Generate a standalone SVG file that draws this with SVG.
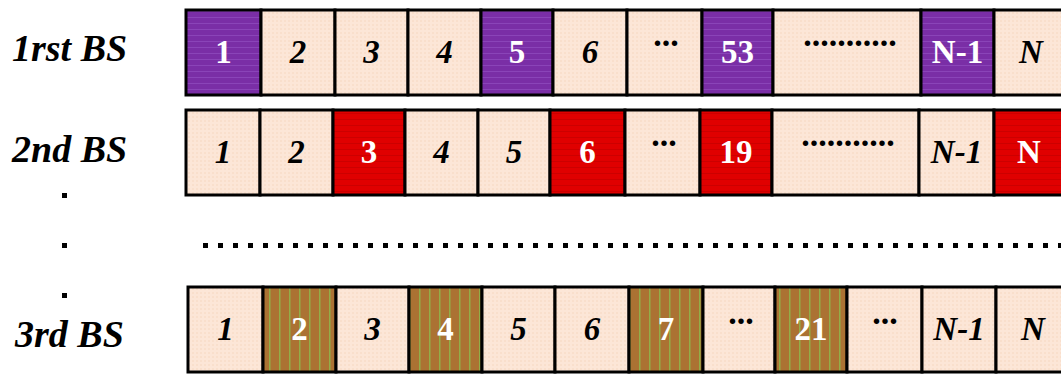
<svg xmlns="http://www.w3.org/2000/svg" width="1061" height="374" viewBox="0 0 1061 374">
<defs>
<pattern id="pPeach" width="4" height="4" patternUnits="userSpaceOnUse"><rect width="4" height="4" fill="#fce6d7"/><rect width="2" height="2" fill="#f9dfcc"/></pattern>
<pattern id="pPurple" width="6" height="6" patternUnits="userSpaceOnUse"><rect width="6" height="6" fill="#7a2ea6"/><rect y="5" width="6" height="1" fill="#8a44b8"/></pattern>
<pattern id="pRed" width="6" height="6" patternUnits="userSpaceOnUse"><rect width="6" height="6" fill="#e00000"/><rect y="5" width="6" height="1" fill="#cc0000"/></pattern>
<pattern id="pOlive" width="10" height="10" patternUnits="userSpaceOnUse" x="265"><rect width="10" height="10" fill="#ab7233"/><rect x="4" width="1.5" height="10" fill="#92ad48"/></pattern>
<style>
.c{stroke:#000;stroke-width:3}
.pe{fill:url(#pPeach)}
.pu{fill:url(#pPurple)}
.rd{fill:url(#pRed)}
.ol{fill:url(#pOlive)}
.k{font-family:"Liberation Serif","Times New Roman",serif;font-weight:bold;font-style:italic;font-size:33px;fill:#000;text-anchor:middle}
.w{font-family:"Liberation Serif","Times New Roman",serif;font-weight:bold;font-size:33px;fill:#fff;text-anchor:middle}
.d{font-family:"Liberation Serif","Times New Roman",serif;font-weight:bold;font-size:34px;fill:#000;text-anchor:middle}
.lb{font-family:"Liberation Serif","Times New Roman",serif;font-weight:bold;font-style:italic;font-size:38px;fill:#000}
</style>
</defs>
<rect width="1061" height="374" fill="#fff"/>

<g id="labels">
<text class="lb" x="12" y="61">1rst BS</text>
<text class="lb" x="12" y="162">2nd BS</text>
<text class="lb" x="15" y="347">3rd BS</text>
<rect x="62" y="193" width="5" height="5" fill="#000"/>
<rect x="62" y="243" width="5" height="5" fill="#000"/>
<rect x="62" y="293" width="5" height="5" fill="#000"/>
<line x1="203" y1="245.5" x2="1061" y2="245.5" stroke="#000" stroke-width="5" stroke-dasharray="5 10"/>
</g>

<g id="row1">
<g id="r1c1"><rect class="c pu" x="186" y="10" width="75" height="85"/><text class="w" x="223.5" y="63">1</text></g>
<g id="r1c2"><rect class="c pe" x="261" y="10" width="74" height="85"/><text class="k" x="298" y="63">2</text></g>
<g id="r1c3"><rect class="c pe" x="335" y="10" width="73" height="85"/><text class="k" x="371.5" y="63">3</text></g>
<g id="r1c4"><rect class="c pe" x="408" y="10" width="73" height="85"/><text class="k" x="444.5" y="63">4</text></g>
<g id="r1c5"><rect class="c pu" x="481" y="10" width="72" height="85"/><text class="w" x="517" y="63">5</text></g>
<g id="r1c6"><rect class="c pe" x="553" y="10" width="74" height="85"/><text class="k" x="590" y="63">6</text></g>
<g id="r1c7"><rect class="c pe" x="627" y="10" width="75" height="85"/><text class="d" x="666" y="46">...</text></g>
<g id="r1c8"><rect class="c pu" x="702" y="10" width="71" height="85"/><text class="w" x="737.5" y="63">53</text></g>
<g id="r1c9"><rect class="c pe" x="773" y="10" width="148" height="85"/><text class="d" x="850" y="46">...........</text></g>
<g id="r1c10"><rect class="c pu" x="921" y="10" width="73" height="85"/><text class="w" x="957.5" y="63">N-1</text></g>
<g id="r1c11"><rect class="c pe" x="994" y="10" width="80" height="85"/><text class="k" x="1031" y="63">N</text></g>
</g>

<g id="row2">
<g id="r2c1"><rect class="c pe" x="186" y="110" width="74" height="85"/><text class="k" x="223" y="163">1</text></g>
<g id="r2c2"><rect class="c pe" x="260" y="110" width="73" height="85"/><text class="k" x="296.5" y="163">2</text></g>
<g id="r2c3"><rect class="c rd" x="333" y="110" width="72" height="85"/><text class="w" x="369" y="163">3</text></g>
<g id="r2c4"><rect class="c pe" x="405" y="110" width="73" height="85"/><text class="k" x="441.5" y="163">4</text></g>
<g id="r2c5"><rect class="c pe" x="478" y="110" width="72" height="85"/><text class="k" x="514" y="163">5</text></g>
<g id="r2c6"><rect class="c rd" x="550" y="110" width="75" height="85"/><text class="w" x="587.5" y="163">6</text></g>
<g id="r2c7"><rect class="c pe" x="625" y="110" width="75" height="85"/><text class="d" x="664" y="146">...</text></g>
<g id="r2c8"><rect class="c rd" x="700" y="110" width="72" height="85"/><text class="w" x="736" y="163">19</text></g>
<g id="r2c9"><rect class="c pe" x="772" y="110" width="147" height="85"/><text class="d" x="848" y="146">...........</text></g>
<g id="r2c10"><rect class="c pe" x="919" y="110" width="75" height="85"/><text class="k" x="956.5" y="163">N-1</text></g>
<g id="r2c11"><rect class="c rd" x="994" y="110" width="80" height="85"/><text class="w" x="1029" y="163">N</text></g>
</g>

<g id="row3">
<g id="r3c1"><rect class="c pe" x="188" y="287" width="75" height="85"/><text class="k" x="225.5" y="340">1</text></g>
<g id="r3c2"><rect class="c ol" x="263" y="287" width="73" height="85"/><text class="w" x="299.5" y="340">2</text></g>
<g id="r3c3"><rect class="c pe" x="336" y="287" width="73" height="85"/><text class="k" x="372.5" y="340">3</text></g>
<g id="r3c4"><rect class="c ol" x="409" y="287" width="73" height="85"/><text class="w" x="445.5" y="340">4</text></g>
<g id="r3c5"><rect class="c pe" x="482" y="287" width="73" height="85"/><text class="k" x="518.5" y="340">5</text></g>
<g id="r3c6"><rect class="c pe" x="555" y="287" width="74" height="85"/><text class="k" x="592" y="340">6</text></g>
<g id="r3c7"><rect class="c ol" x="629" y="287" width="74" height="85"/><text class="w" x="666" y="340">7</text></g>
<g id="r3c8"><rect class="c pe" x="703" y="287" width="72" height="85"/><text class="d" x="741" y="324">...</text></g>
<g id="r3c9"><rect class="c ol" x="775" y="287" width="72" height="85"/><text class="w" x="811" y="340">21</text></g>
<g id="r3c10"><rect class="c pe" x="847" y="287" width="75" height="85"/><text class="d" x="885" y="324">...</text></g>
<g id="r3c11"><rect class="c pe" x="922" y="287" width="74" height="85"/><text class="k" x="959" y="340">N-1</text></g>
<g id="r3c12"><rect class="c pe" x="996" y="287" width="80" height="85"/><text class="k" x="1033" y="340">N</text></g>
</g>
</svg>
